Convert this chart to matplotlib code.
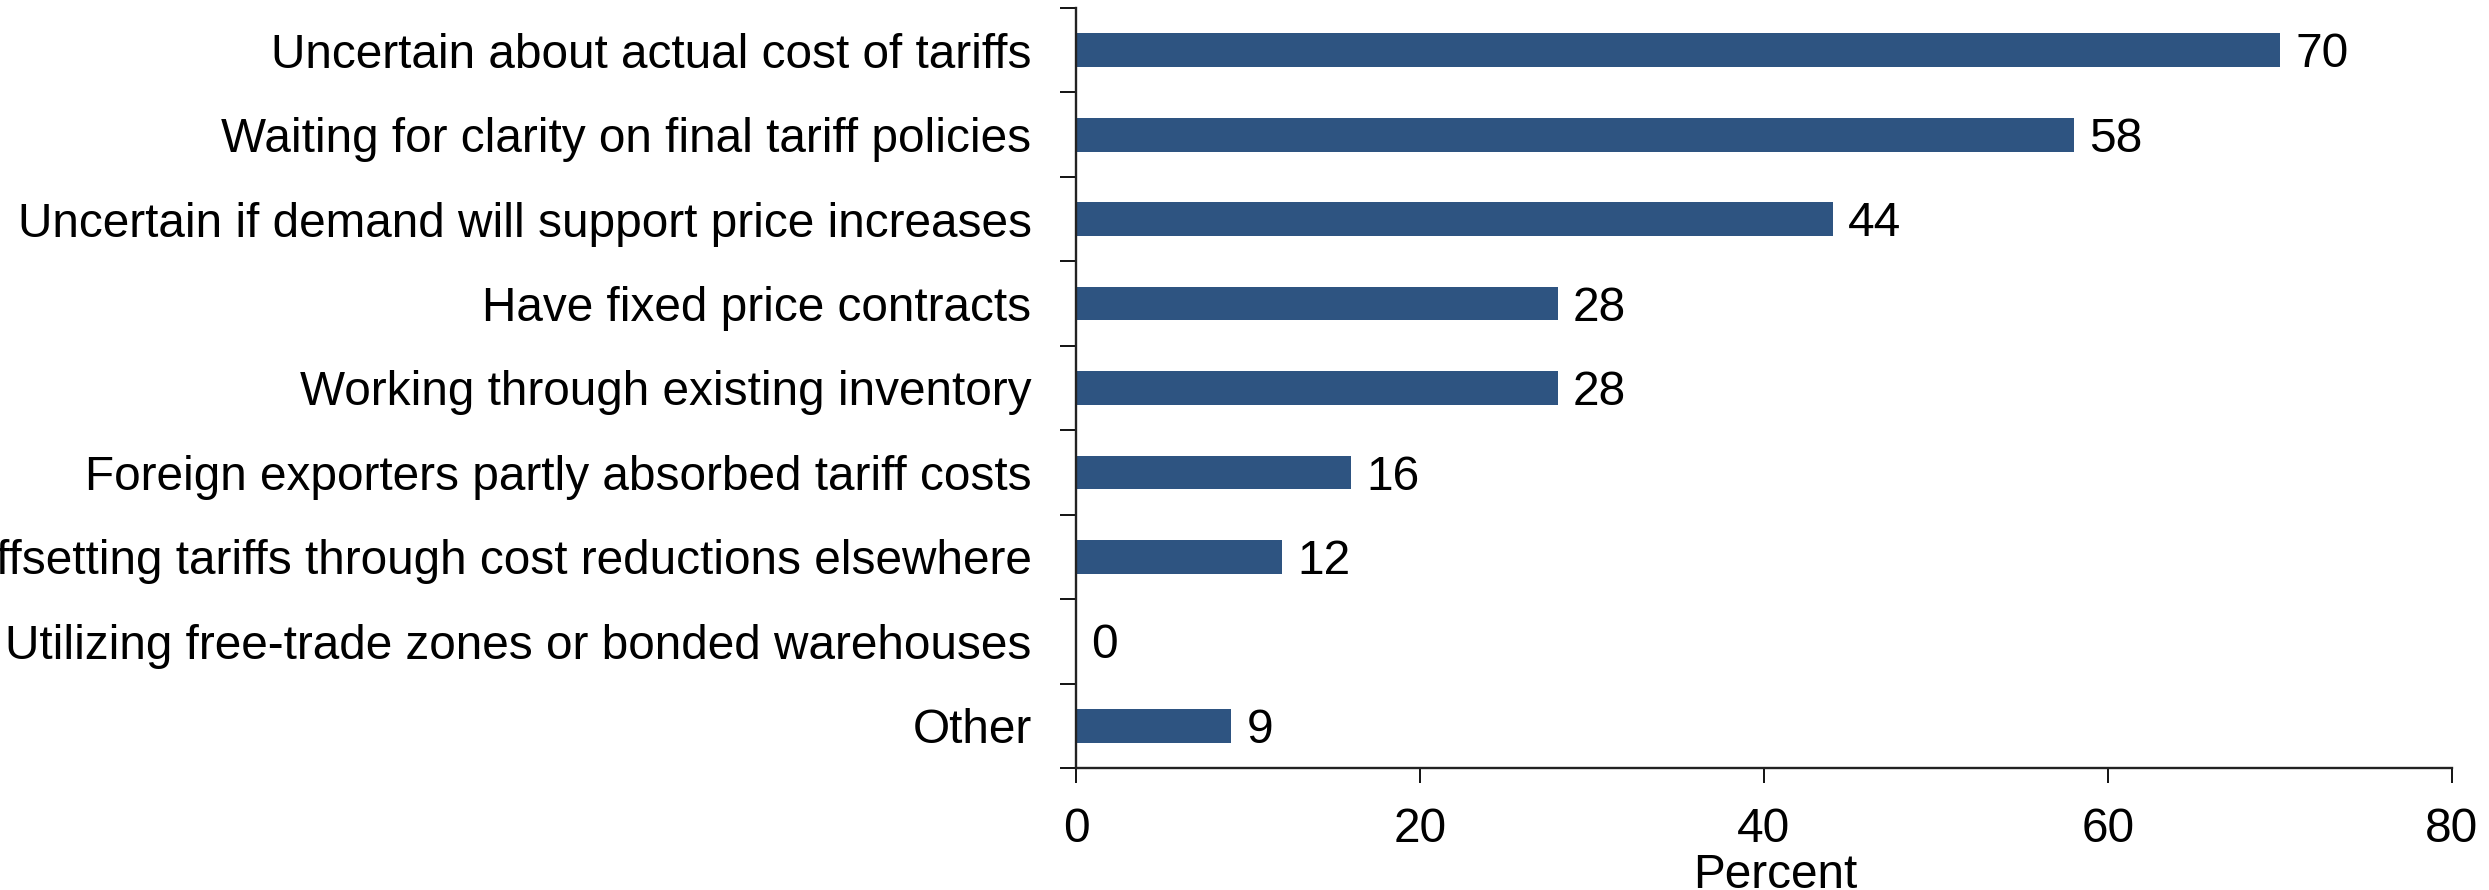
import matplotlib
matplotlib.use("Agg")
import matplotlib.pyplot as plt
import numpy as np

categories = [
    "Uncertain about actual cost of tariffs",
    "Waiting for clarity on final tariff policies",
    "Uncertain if demand will support price increases",
    "Have fixed price contracts",
    "Working through existing inventory",
    "Foreign exporters partly absorbed tariff costs",
    "Offsetting tariffs through cost reductions elsewhere",
    "Utilizing free-trade zones or bonded warehouses",
    "Other",
]
values = [70, 58, 44, 28, 28, 16, 12, 0, 9]
xticks = [0, 20, 40, 60, 80]

plt.rcParams['font.family'] = ['Liberation Sans', 'DejaVu Sans']

fig = plt.figure(figsize=(24.89, 8.90), dpi=100)
ax = fig.add_axes([0.4323, 0.1371, 0.9851 - 0.4323, 0.991 - 0.1371])

n = len(categories)
ypos = np.arange(n)
ax.barh(ypos, values, height=0.40, color='#2E5481')

# value labels: cap-height centred on the bar
fs_val = 34.5
cap_px = 0.716 * fs_val / 72 * 100
ax_h_px = (0.991 - 0.1371) * 890
half_cap_data = (cap_px / 2) / (ax_h_px / n)
for y, v in zip(ypos, values):
    ax.text(v + 0.9, y + half_cap_data, f"{v}", va='baseline', ha='left',
            fontsize=fs_val, color='black')

ax.set_ylim(n - 0.5, -0.5)
ax.set_xlim(0, 80)
ax.set_xticks(xticks)
ax.set_xticklabels([str(t) for t in xticks])

ax.set_yticks(np.arange(-0.5, n, 1.0))
ax.set_yticklabels([])
ax.set_yticks(ypos, minor=True)
ax.set_yticklabels(categories, minor=True)
ax.tick_params(axis='y', which='minor', length=0, labelsize=34.4, pad=32)
ax.tick_params(axis='y', which='major', length=11.5, width=1.3, direction='out')
ax.tick_params(axis='x', which='major', length=11, width=1.3, direction='out',
               labelsize=34.4, pad=17)

for s in ['top', 'right']:
    ax.spines[s].set_visible(False)
for s in ['left', 'bottom']:
    ax.spines[s].set_linewidth(1.7)
    ax.spines[s].set_color('#222222')

ax.set_xlabel("Percent", fontsize=34.4)
ax.xaxis.set_label_coords(0.508, -0.1125)

fig.savefig("out.png", dpi=100)
